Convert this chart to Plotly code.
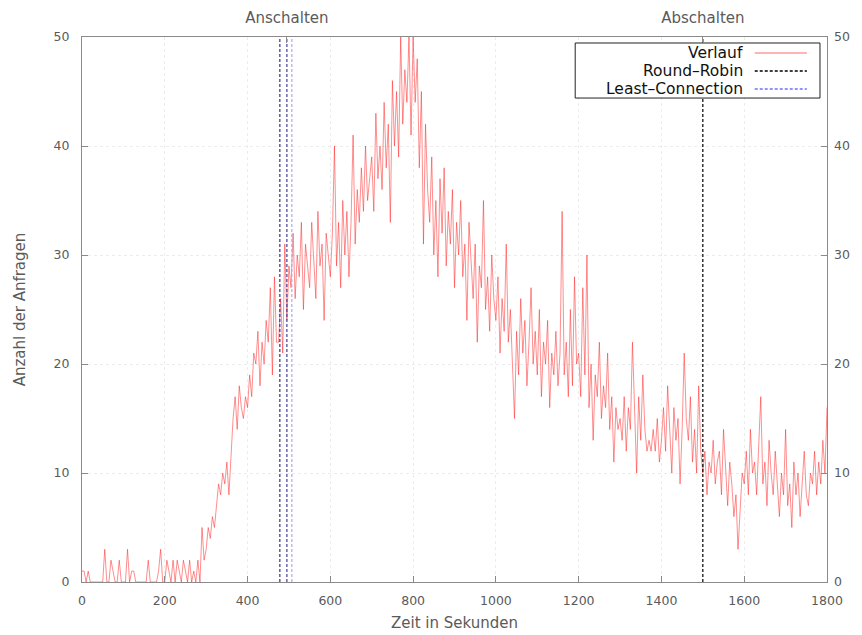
import plotly.graph_objects as go

# ---- data -------------------------------------------------------------
time_step = 5  # seconds between samples
verlauf = [
    1, 1, 0, 1, 0, 0, 0, 0, 0, 0, 0, 3, 0, 0, 2, 1, 0, 0, 2, 0,
    0, 0, 3, 0, 1, 1, 0, 0, 0, 0, 0, 0, 2, 0, 0, 0, 0, 1, 3, 0,
    0, 2, 1, 0, 2, 0, 2, 1, 0, 2, 1, 0, 2, 0, 1, 0, 2, 0, 5, 2,
    3, 5, 4, 6, 5, 7, 9, 8, 10, 9, 11, 8, 12, 15, 17, 14, 18, 16, 15, 17,
    16, 19, 17, 21, 20, 23, 18, 22, 20, 24, 22, 27, 19, 28, 22, 22, 26, 21, 31, 24,
    29, 27, 32, 26, 30, 28, 33, 25, 31, 29, 27, 33, 30, 26, 34, 29, 31, 24, 32, 30,
    28, 32, 40, 29, 33, 27, 35, 30, 34, 28, 33, 41, 31, 36, 33, 38, 34, 40, 35, 37,
    39, 34, 43, 37, 40, 36, 44, 38, 42, 33, 46, 40, 45, 39, 50, 42, 47, 44, 50, 41,
    50, 44, 48, 38, 45, 31, 42, 36, 33, 39, 30, 35, 28, 37, 32, 38, 29, 34, 31, 36,
    27, 33, 30, 35, 28, 31, 24, 33, 29, 26, 31, 22, 29, 27, 35, 25, 28, 23, 30, 26,
    24, 28, 21, 26, 23, 31, 22, 25, 20, 15, 23, 19, 26, 21, 24, 18, 22, 27, 20, 23,
    19, 25, 17, 22, 20, 24, 16, 21, 19, 23, 18, 21, 34, 19, 22, 17, 25, 18, 28, 20,
    21, 17, 27, 19, 30, 16, 20, 13, 19, 17, 22, 15, 18, 16, 21, 14, 17, 11, 16, 14,
    15, 13, 17, 12, 16, 14, 22, 15, 10, 17, 13, 19, 14, 12, 13, 12, 14, 12, 15, 11,
    13, 16, 12, 18, 14, 10, 16, 13, 15, 9, 14, 21, 15, 13, 17, 11, 14, 10, 18, 12,
    10, 12, 8, 11, 10, 13, 9, 11, 12, 8, 14, 10, 7, 11, 9, 6, 8, 3, 7, 10,
    9, 12, 8, 14, 10, 11, 8, 12, 17, 9, 11, 7, 13, 10, 8, 12, 9, 6, 10, 8,
    14, 7, 9, 5, 11, 8, 10, 6, 9, 12, 8, 7, 10, 9, 12, 8, 11, 9, 13, 10, 16,
]
zeit = [i * time_step for i in range(len(verlauf))]

# switching events (seconds)
round_robin_on = [478]
least_conn_on = [495, 507]
round_robin_off = [1500]
top_label_pos = [495, 1500]
top_labels = ["Anschalten", "Abschalten"]

x_range = [0, 1800]
y_range = [0, 50]
x_ticks = list(range(0, 1801, 200))
y_ticks = list(range(0, 51, 10))

# ---- styles -----------------------------------------------------------
FONT = "DejaVu Sans, Verdana, sans-serif"
AXIS_COL = "#8a8a8a"
TEXT_COL = "#5a5a5a"
TICK_FONT = dict(family=FONT, size=12.5, color=TEXT_COL)
GRID_COL = "#ececec"

fig = go.Figure()

fig.add_trace(go.Scatter(
    x=zeit, y=verlauf, mode="lines",
    line=dict(color="rgba(255,30,30,0.5)", width=1),
    showlegend=False, hoverinfo="skip",
))

def vline(t, color, width=1.2):
    fig.add_trace(go.Scatter(
        x=[t, t], y=y_range, mode="lines",
        line=dict(color=color, width=width, dash="3px,2px"),
        showlegend=False, hoverinfo="skip",
    ))

for t in round_robin_on:
    vline(t, "#34348a")
for i, t in enumerate(least_conn_on):
    vline(t, "#40409a" if i == 0 else "#aaaaf2")
for t in round_robin_off:
    vline(t, "#000000")

# invisible trace to activate secondary axes
fig.add_trace(go.Scatter(
    x=[x_range[0]], y=[y_range[0]], xaxis="x2", yaxis="y2", mode="markers",
    marker=dict(opacity=0), showlegend=False, hoverinfo="skip",
))

common_axis = dict(
    showline=True, linecolor=AXIS_COL, linewidth=1,
    ticks="inside", ticklen=6, tickcolor=AXIS_COL,
    tickfont=TICK_FONT, zeroline=False, automargin=False,
)

fig.update_layout(
    width=862, height=635,
    margin=dict(l=82, r=35, t=37, b=53),
    paper_bgcolor="white", plot_bgcolor="white",
    font=dict(family=FONT, color=TEXT_COL),
    xaxis=dict(
        range=x_range, tickvals=x_ticks, mirror=True,
        showgrid=True, gridcolor=GRID_COL, griddash="dot",
        ticklabelstandoff=7,
        title=dict(text="Zeit in Sekunden", font=dict(family=FONT, size=15, color=TEXT_COL), standoff=10),
        **common_axis,
    ),
    yaxis=dict(
        range=y_range, tickvals=y_ticks, mirror=True,
        showgrid=True, gridcolor=GRID_COL, griddash="dot",
        ticklabelstandoff=9,
        title=dict(text="Anzahl der Anfragen", font=dict(family=FONT, size=15, color=TEXT_COL), standoff=24),
        **common_axis,
    ),
    xaxis2=dict(
        overlaying="x", side="top", range=x_range,
        tickvals=top_label_pos, ticktext=top_labels,
        ticks="inside", ticklen=6, tickcolor=AXIS_COL,
        ticklabelstandoff=10, automargin=False,
        tickfont=dict(family=FONT, size=15, color=TEXT_COL),
        showgrid=False, showline=False, zeroline=False,
    ),
    yaxis2=dict(
        overlaying="y", side="right", range=y_range, tickvals=y_ticks,
        ticks="inside", ticklen=6, tickcolor=AXIS_COL,
        ticklabelstandoff=6, automargin=False,
        tickfont=TICK_FONT, showgrid=False, showline=False, zeroline=False,
    ),
)

# ---- legend (gnuplot style: text right-aligned, sample on the right) ---
legend_entries = [
    ("Verlauf", dict(color="rgba(255,90,90,0.9)", width=1.2, dash="solid")),
    ("Round\u2013Robin", dict(color="#000000", width=1.3, dash="3px,2px")),
    ("Least\u2013Connection", dict(color="#7070ff", width=1.3, dash="3px,2px")),
]
fig.add_shape(type="rect", xref="paper", yref="paper",
              x0=0.662, x1=0.9906, y0=0.888, y1=0.989,
              line=dict(color="#222222", width=1), fillcolor="white", layer="above")
row_y = [0.9706, 0.9376, 0.9046]
for (label, style), yy in zip(legend_entries, row_y):
    fig.add_annotation(xref="paper", yref="paper", x=0.890, y=yy, text=label,
                       showarrow=False, xanchor="right", yanchor="middle",
                       font=dict(family=FONT, size=15.5, color="#111111"))
    fig.add_shape(type="line", xref="paper", yref="paper",
                  x0=0.903, x1=0.973, y0=yy, y1=yy, line=style, layer="above")

fig.write_html("out.html")
